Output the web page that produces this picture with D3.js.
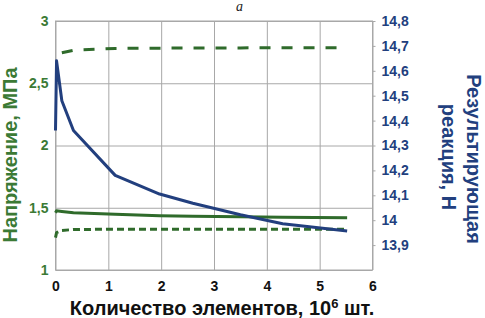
<!DOCTYPE html>
<html>
<head>
<meta charset="utf-8">
<script src="https://cdn.jsdelivr.net/npm/d3@7"></script>
<style>
  body { margin: 0; background: #fff; }
  svg { display: block; }
  text { font-family: "Liberation Sans", Arial, sans-serif; font-weight: bold; }
</style>
</head>
<body>
<div id="chart"></div>
<script>
// Chart data
var elements = [0, 0.02, 0.12, 0.34, 1.13, 1.97, 2.6, 3.5, 4.3, 5.52];
var reaction = [14.36, 14.64, 14.48, 14.36, 14.18, 14.105, 14.068, 14.022, 13.986, 13.957];
var stressMid = [1.46, 1.475, 1.47, 1.46, 1.447, 1.436, 1.432, 1.428, 1.424, 1.42];
var stressLow = [1.26, 1.30, 1.318, 1.325, 1.328, 1.328, 1.328, 1.328, 1.328, 1.328];
var stressHigh = [null, null, 2.745, 2.765, 2.78, 2.782, 2.783, 2.784, 2.785, 2.785];

var xTicks = [0, 1, 2, 3, 4, 5, 6];
var leftTicks = [1, 1.5, 2, 2.5, 3];
var rightTicks = [13.9, 14, 14.1, 14.2, 14.3, 14.4, 14.5, 14.6, 14.7, 14.8];

var svgWidth = 485;
var svgHeight = 318;
var plot = { left: 55.5, right: 372.5, top: 21, bottom: 270 };

var green = "#2f6b2b";
var greenText = "#3b7a35";
var blue = "#223f7e";
var grid = "#a8a8a8";

var svg = d3.select("#chart")
    .append("svg")
    .attr("width", svgWidth)
    .attr("height", svgHeight);

var x = d3.scaleLinear().domain([0, 6]).range([plot.left, plot.right]);
var yLeft = d3.scaleLinear().domain([1, 3]).range([plot.bottom, plot.top]);
var yRight = d3.scaleLinear().domain([13.8, 14.8]).range([plot.bottom, plot.top]);

var fmt = function(d) { return String(+d.toFixed(1)).replace(".", ","); };

// grid lines
svg.append("g")
    .attr("transform", `translate(0, ${plot.bottom})`)
    .call(d3.axisBottom(x).tickValues(xTicks).tickSize(-(plot.bottom - plot.top)).tickFormat(""))
    .call(g => g.select(".domain").remove())
    .call(g => g.selectAll("line").attr("stroke", grid));

svg.append("g")
    .attr("transform", `translate(${plot.left}, 0)`)
    .call(d3.axisLeft(yLeft).tickValues(leftTicks).tickSize(-(plot.right - plot.left)).tickFormat(""))
    .call(g => g.select(".domain").remove())
    .call(g => g.selectAll("line").attr("stroke", grid));

// frame
svg.append("rect")
    .attr("x", plot.left)
    .attr("y", plot.top)
    .attr("width", plot.right - plot.left)
    .attr("height", plot.bottom - plot.top)
    .attr("fill", "none")
    .attr("stroke", grid);

// left axis labels
svg.append("g")
    .attr("transform", `translate(${plot.left}, 0)`)
    .call(d3.axisLeft(yLeft).tickValues(leftTicks).tickSize(0).tickPadding(7).tickFormat(fmt))
    .call(g => g.select(".domain").remove())
    .call(g => g.selectAll("text")
        .attr("fill", greenText)
        .style("font-size", "14px")
        .style("font-family", "Liberation Sans, Arial, sans-serif")
        .style("font-weight", "bold"));

// right axis
svg.append("g")
    .attr("transform", `translate(${plot.right}, 0)`)
    .call(d3.axisRight(yRight).tickValues(rightTicks).tickSize(3).tickPadding(6).tickFormat(fmt))
    .call(g => g.select(".domain").remove())
    .call(g => g.selectAll("line").attr("stroke", grid))
    .call(g => g.selectAll("text")
        .attr("fill", blue)
        .style("font-size", "14px")
        .style("font-family", "Liberation Sans, Arial, sans-serif")
        .style("font-weight", "bold"));

// bottom axis labels
svg.append("g")
    .attr("transform", `translate(0, ${plot.bottom})`)
    .call(d3.axisBottom(x).tickValues(xTicks).tickSize(0).tickPadding(11).tickFormat(d3.format("d")))
    .call(g => g.select(".domain").remove())
    .call(g => g.selectAll("text")
        .attr("fill", "#111")
        .style("font-size", "14px")
        .style("font-family", "Liberation Sans, Arial, sans-serif")
        .style("font-weight", "bold"));

// series
function drawLine(values, scale, color, dash) {
    var pts = elements.map((e, i) => ({ x: e, y: values[i] }));
    var line = d3.line()
        .defined(d => d.y !== null)
        .x(d => x(d.x))
        .y(d => scale(d.y));
    svg.append("path")
        .datum(pts)
        .attr("d", line)
        .attr("fill", "none")
        .attr("stroke", color)
        .attr("stroke-width", 3)
        .attr("stroke-dasharray", dash)
        .attr("stroke-linejoin", "round");
}

drawLine(stressHigh, yLeft, green, "11,11");
drawLine(stressLow, yLeft, green, "7,4");
drawLine(stressMid, yLeft, green, null);
drawLine(reaction, yRight, blue, null);

// titles
svg.append("text")
    .attr("transform", "translate(17, 155) rotate(-90)")
    .attr("text-anchor", "middle")
    .attr("fill", greenText)
    .style("font-size", "20px")
    .text("Напряжение, МПа");

svg.append("text")
    .attr("transform", "translate(467, 159) rotate(90)")
    .attr("text-anchor", "middle")
    .attr("fill", blue)
    .style("font-size", "20px")
    .text("Результирующая");

svg.append("text")
    .attr("transform", "translate(442, 157) rotate(90)")
    .attr("text-anchor", "middle")
    .attr("fill", blue)
    .style("font-size", "20px")
    .text("реакция, Н");

var xTitle = svg.append("text")
    .attr("x", 222)
    .attr("y", 315)
    .attr("text-anchor", "middle")
    .attr("fill", "#111")
    .style("font-size", "20px");
xTitle.append("tspan").text("Количество элементов, 10");
xTitle.append("tspan").attr("dy", -7).style("font-size", "13px").text("6");
xTitle.append("tspan").attr("dy", 7).text(" шт.");

svg.append("text")
    .attr("x", 236)
    .attr("y", 11)
    .attr("fill", "#222")
    .style("font-family", "Liberation Serif, serif")
    .style("font-weight", "normal")
    .style("font-style", "italic")
    .style("font-size", "14px")
    .text("a");
</script>
</body>
</html>
